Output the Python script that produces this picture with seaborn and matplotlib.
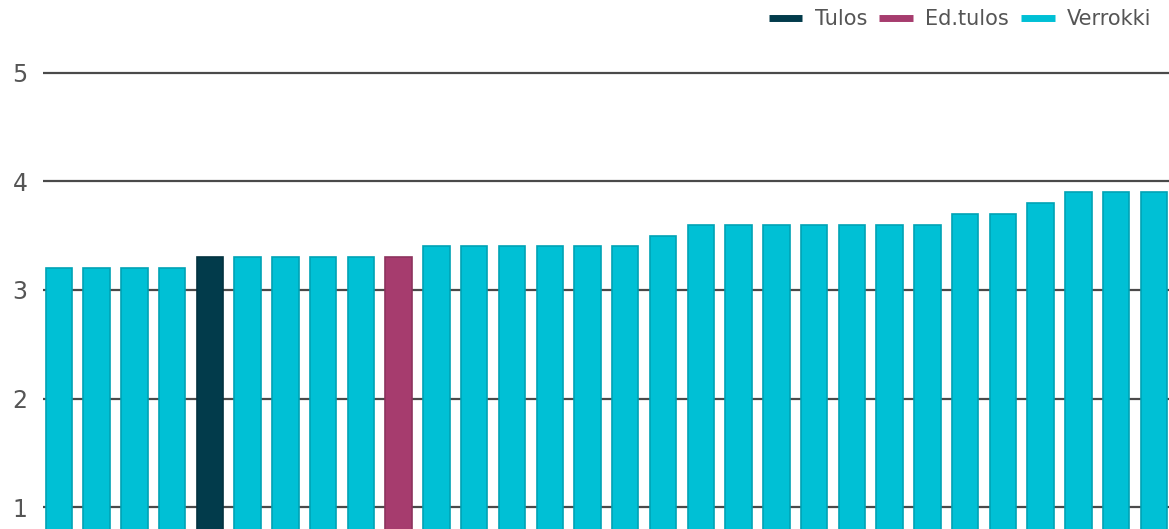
import matplotlib
matplotlib.use("Agg")
import matplotlib.pyplot as plt
import matplotlib.colors as mcolors
from matplotlib.lines import Line2D
import seaborn as sns
import pandas as pd

categories = [f"c{i+1}" for i in range(30)]
values = [3.2, 3.2, 3.2, 3.2, 3.3, 3.3, 3.3, 3.3, 3.3, 3.3,
          3.4, 3.4, 3.4, 3.4, 3.4, 3.4, 3.5, 3.6, 3.6, 3.6,
          3.6, 3.6, 3.6, 3.6, 3.7, 3.7, 3.8, 3.9, 3.9, 3.9]
groups = ["Verrokki"] * 4 + ["Tulos"] + ["Verrokki"] * 4 + ["Ed.tulos"] + ["Verrokki"] * 20
legend_labels = ["Tulos", "Ed.tulos", "Verrokki"]
colors = {"Tulos": "#023b4b", "Ed.tulos": "#a63c6e", "Verrokki": "#00c0d5"}
yticks = [1, 2, 3, 4, 5]

df = pd.DataFrame({"cat": categories, "value": values, "group": groups})

sns.set_theme(style="white")
plt.rcParams["font.family"] = ["DejaVu Sans"]

fig = plt.figure(figsize=(11.69, 5.29), dpi=100)
ax = fig.add_axes([43 / 1169, 0, 1 - 43 / 1169, 489 / 529])

sns.barplot(data=df, x="cat", y="value", hue="group", palette=colors,
            dodge=False, width=0.7, legend=False, ax=ax, zorder=3,
            saturation=1)

for p in ax.patches:
    fc = mcolors.to_rgb(p.get_facecolor())
    ec = tuple(c * 0.85 for c in fc)
    p.set_edgecolor(ec)
    p.set_linewidth(1.2)

ax.set_ylim(0.8, 5.3)
ax.set_xlim(-0.42, 29.4)
ax.set_yticks(yticks)
ax.set_yticklabels([str(t) for t in yticks])
ax.set_xticks([])
ax.set_xlabel("")
ax.set_ylabel("")
ax.yaxis.grid(True, color="#4a4a4a", linewidth=1.6, zorder=0)
ax.set_axisbelow(True)
for s in ax.spines.values():
    s.set_visible(False)
ax.tick_params(axis="y", length=0, labelsize=17, labelcolor="#555555", pad=11)

handles = [Line2D([0], [0], color=colors[g], lw=5, solid_capstyle="butt") for g in legend_labels]
fig.legend(handles, legend_labels, loc="upper right", bbox_to_anchor=(0.996, 1.006),
           ncol=3, frameon=False, fontsize=15, labelcolor="#555555",
           handlelength=1.6, columnspacing=0.6, handletextpad=0.6,
           borderaxespad=0.2)

fig.savefig("out.png", dpi=100)
